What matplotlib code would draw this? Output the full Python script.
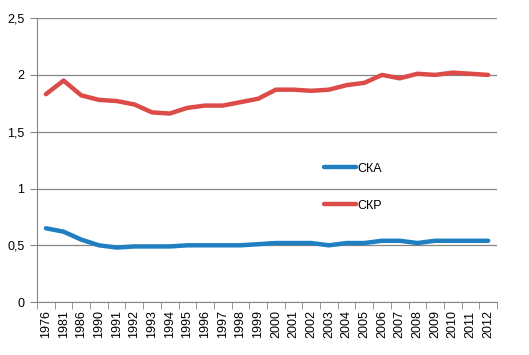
import matplotlib.pyplot as plt
import numpy as np

years = ['1976', '1981', '1986', '1990', '1991', '1992', '1993', '1994', '1995',
         '1996', '1997', '1998', '1999', '2000', '2001', '2002', '2003', '2004',
         '2005', '2006', '2007', '2008', '2009', '2010', '2011', '2012']

ska = [0.65, 0.62, 0.55, 0.50, 0.48, 0.49, 0.49, 0.49, 0.50, 0.50, 0.50, 0.50,
       0.51, 0.52, 0.52, 0.52, 0.50, 0.52, 0.52, 0.54, 0.54, 0.52, 0.54, 0.54,
       0.54, 0.54]
skr = [1.83, 1.95, 1.82, 1.78, 1.77, 1.74, 1.67, 1.66, 1.71, 1.73, 1.73, 1.76,
       1.79, 1.87, 1.87, 1.86, 1.87, 1.91, 1.93, 2.00, 1.97, 2.01, 2.00, 2.02,
       2.01, 2.00]

plt.rcParams['font.family'] = ['Liberation Sans', 'DejaVu Sans']

fig = plt.figure(figsize=(5.29, 3.55), dpi=100)
ax = fig.add_axes([0.070, 0.149, 0.8695, 0.80])

x = np.arange(len(years))
ax.plot(x, ska, color='#1f7fc1', lw=3.2, label='СКА', solid_capstyle='round')
ax.plot(x, skr, color='#dc4b47', lw=3.2, label='СКР', solid_capstyle='round')

ax.set_xlim(-0.5, len(years) - 0.5)
ax.set_ylim(0, 2.5)
ax.set_yticks([0, 0.5, 1, 1.5, 2, 2.5])
ax.set_yticklabels(['0', '0,5', '1', '1,5', '2', '2,5'], fontsize=9)
ax.set_xticks(x)
ax.set_xticklabels(years, rotation=90, fontsize=9)
ax.set_xticks(np.arange(len(years) + 1) - 0.5, minor=True)
ax.tick_params(axis='x', which='major', length=0, pad=6)
ax.tick_params(axis='x', which='minor', length=5, color='#868686', direction='out')
ax.tick_params(axis='y', length=5, color='#868686', pad=4)

ax.grid(axis='y', color='#868686', lw=0.9)
ax.set_axisbelow(True)
for s in ['top', 'right']:
    ax.spines[s].set_visible(False)
for s in ['left', 'bottom']:
    ax.spines[s].set_color('#868686')

ax.legend(loc='upper left', bbox_to_anchor=(0.6, 0.53), frameon=False, fontsize=9,
          handlelength=2.5, labelspacing=2.0, handletextpad=0.15)

fig.savefig('out.png', dpi=100)
